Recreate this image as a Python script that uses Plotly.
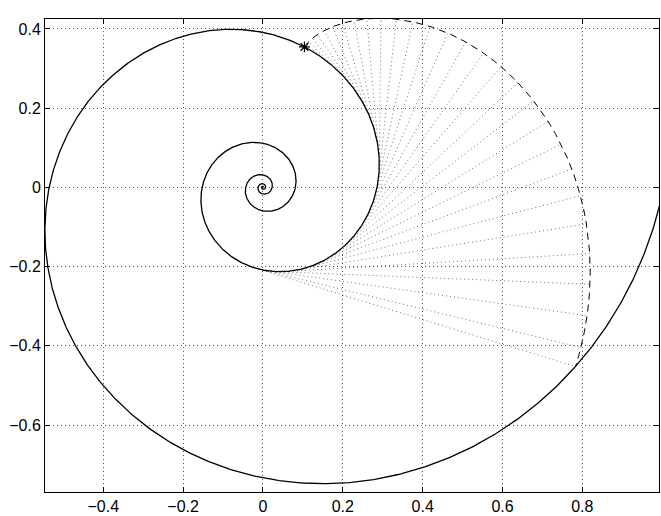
import numpy as np
import plotly.graph_objects as go

# Logarithmic spiral r = a * exp(b * theta)
spiral_a = 0.2857          # radius at theta = 0
spiral_b = 0.20            # growth rate
theta_start = -25.0        # inner end (near the centre)
theta_stop = 6.26          # outer end (leaves the right edge)
theta_star = 1.286         # where the string is fixed (asterisk)
tangent_step = 0.10        # angular step between drawn tangent segments

x_ticks = [-0.4, -0.2, 0, 0.2, 0.4, 0.6, 0.8]
y_ticks = [-0.6, -0.4, -0.2, 0, 0.2, 0.4]
x_range = [-0.546, 0.992]
y_range = [-0.769, 0.425]


def fmt(v):
    s = f"{v:g}"
    return s.replace("-", "\u2212")


def spiral(t):
    r = spiral_a * np.exp(spiral_b * t)
    return r * np.cos(t), r * np.sin(t)


def involute(t):
    r = spiral_a * np.exp(spiral_b * t)
    r0 = spiral_a * np.exp(spiral_b * theta_star)
    L = (r0 - r) / spiral_b
    x = r * np.cos(t) + L * (spiral_b * np.cos(t) - np.sin(t))
    y = r * np.sin(t) + L * (spiral_b * np.sin(t) + np.cos(t))
    return x, y


# main spiral
ts = np.linspace(theta_start, theta_stop, 4000)
sx, sy = spiral(ts)

# involute until it meets the outer turn of the spiral
tf = np.linspace(theta_star, theta_star - 4.0, 4000)
qx, qy = involute(tf)
rho = np.hypot(qx, qy)
phi = np.mod(np.arctan2(qy, qx), 2 * np.pi)
phi = np.where(phi < np.pi, phi + 2 * np.pi, phi)
r_out = spiral_a * np.exp(spiral_b * phi)
inside = rho < r_out
inside[:10] = True
stop = np.argmax(~inside)
theta_end = tf[stop]
tf = tf[: stop + 1]
qx, qy = qx[: stop + 1], qy[: stop + 1]

# tangent segments
tt = list(np.arange(theta_star - tangent_step, theta_end, -tangent_step)) + [theta_end]
lx, ly = [], []
for t in tt:
    ax_, ay_ = spiral(t)
    bx_, by_ = involute(t)
    lx += [ax_, bx_, None]
    ly += [ay_, by_, None]

fig = go.Figure()
fig.add_trace(go.Scatter(x=lx, y=ly, mode="lines",
                         line=dict(color="#333", width=0.7, dash="1px,3px"),
                         hoverinfo="skip"))
fig.add_trace(go.Scatter(x=qx, y=qy, mode="lines",
                         line=dict(color="black", width=1, dash="7px,5px")))
fig.add_trace(go.Scatter(x=sx, y=sy, mode="lines",
                         line=dict(color="black", width=1.3)))
px_, py_ = spiral(theta_star)
fig.add_trace(go.Scatter(x=[px_], y=[py_], mode="markers",
                         marker=dict(symbol="asterisk-open", size=9, color="black",
                                     line=dict(color="black", width=1.2))))

axis_common = dict(
    showgrid=True, griddash="1px,3px", gridcolor="#555", gridwidth=1,
    zeroline=False, showline=True, linecolor="black", linewidth=1,
    mirror="ticks", ticks="inside", ticklen=5, tickcolor="black",
    tickfont=dict(family="Liberation Sans, Arial, sans-serif", size=16, color="black"),
)
fig.update_xaxes(range=x_range, tickvals=x_ticks, ticktext=[fmt(v) for v in x_ticks],
                 **axis_common)
fig.update_yaxes(range=y_range, tickvals=y_ticks, ticktext=[fmt(v) for v in y_ticks],
                 **axis_common)
fig.update_layout(width=661, height=516, showlegend=False,
                  margin=dict(l=45, r=1, t=19, b=22),
                  plot_bgcolor="white", paper_bgcolor="white")
fig.write_html("out.html", config={"displayModeBar": False},
               post_script="document.body.style.margin='0';document.body.style.padding='0';")
